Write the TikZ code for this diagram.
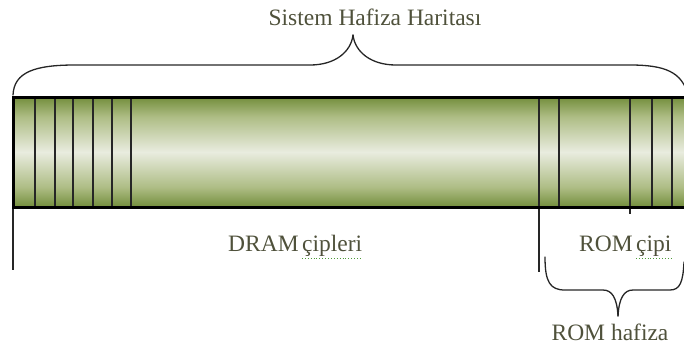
\documentclass[tikz,border=0pt]{standalone}
\usepackage{fontspec}
\setmainfont{Liberation Serif}
\definecolor{bargreen}{HTML}{738E3C}
\definecolor{barmid}{HTML}{AEBD85}
\definecolor{barlight}{HTML}{E9ECDF}
\definecolor{txt}{HTML}{4F513B}
\definecolor{squig}{HTML}{4E9A3A}
\pgfdeclareverticalshading{barshade}{100bp}{color(0bp)=(bargreen); color(25bp)=(bargreen);
  color(34bp)=(barmid); color(50bp)=(barlight); color(66bp)=(barmid);
  color(75bp)=(bargreen); color(100bp)=(bargreen)}
\begin{document}
\begin{tikzpicture}[x=1pt,y=-1pt,
  lbl/.style={text=txt, font=\fontsize{23.5}{24}\selectfont, inner sep=0pt},
  div/.style={line width=1.3pt, black!85},
  brace/.style={line width=1.3pt, black!85, line cap=round},
  squiggle/.style={squig, line width=0.9pt, dotted}]
\useasboundingbox (0,0) rectangle (684,346);
% bar
\shade[shading=barshade] (13,97) rectangle (690,207);
\foreach \x in {35,55,73,93,112,131,559,652,672}
  \draw[div] (\x,97) -- (\x,207);
\draw[div] (539,97) -- (539,272);
\draw[div] (630,97) -- (630,214);
\draw[div] (13,207) -- (13,270);
\draw[line width=3pt] (690,97) -- (13,97) -- (13,207) -- (690,207);
% top brace
\coordinate (ttip) at (353,35);
\draw[brace] (13,95) .. controls (14,72) and (35,65) .. (75,65) -- (310,65)
  .. controls (335,65) and (351,52) .. (ttip);
\draw[brace] (ttip) .. controls (355,52) and (371,65) .. (396,65) -- (630,65)
  .. controls (665,65) and (682,72) .. (688,95);
% bottom brace
\coordinate (btip) at (618,316);
\draw[brace] (545,257) .. controls (545,282) and (550,290) .. (565,290) -- (603,290)
  .. controls (612,290) and (617,298) .. (btip);
\draw[brace] (btip) .. controls (619,298) and (624,290) .. (633,290) -- (670,290)
  .. controls (680,290) and (683,282) .. (684,262);
% labels
\node[lbl] (title) at (375,17) {Sistem Hafiza Haritası};
\node[lbl, anchor=base west] (dram) at (228,251) {DRAM};
\node[lbl, anchor=base west] (dramc) at ([xshift=3pt]dram.base east) {çipleri};
\draw[squiggle] ([yshift=-2pt]dramc.south west) -- ([yshift=-2pt]dramc.south east);
\node[lbl, anchor=base west] (rom) at (579,251) {ROM};
\node[lbl, anchor=base west] (romc) at ([xshift=3pt]rom.base east) {çipi};
\draw[squiggle] ([yshift=-2pt]romc.south west) -- ([yshift=-2pt]romc.south east);
\node[lbl] (romh) at (610,332) {ROM hafiza};
\end{tikzpicture}
\end{document}
